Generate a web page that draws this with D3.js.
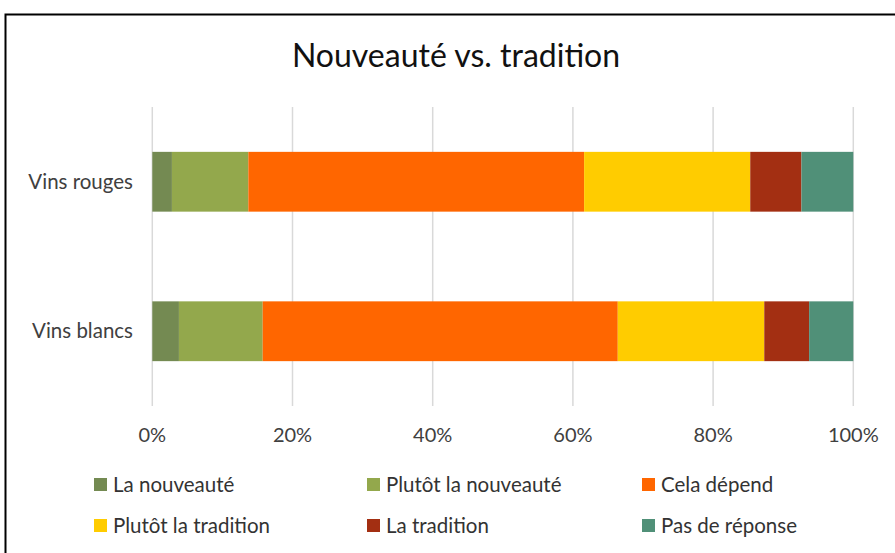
<!DOCTYPE html>
<html>
<head>
<meta charset="utf-8">
<script src="https://cdn.jsdelivr.net/npm/d3@7"></script>
<style>
  body { margin: 0; background: #fff; }
  text { font-family: Lato, "Noto Sans", sans-serif; fill: #404040; }
</style>
</head>
<body>
<div id="viz"></div>
<script>
const width = 895;
const height = 553;

// Data
const categories = ['Vins rouges', 'Vins blancs'];
const seriesNames = ['La nouveauté', 'Plutôt la nouveauté', 'Cela dépend', 'Plutôt la tradition', 'La tradition', 'Pas de réponse'];
const vinsRouges = [2.8, 10.9, 47.9, 23.7, 7.3, 7.4];
const vinsBlancs = [3.8, 11.95, 50.65, 20.9, 6.4, 6.3];
const tickValues = [0, 20, 40, 60, 80, 100];
const colors = ['#748A52', '#93A84C', '#FF6600', '#FFCC00', '#A32F12', '#509078'];

const rows = [vinsRouges, vinsBlancs];
const table = categories.map((c, i) => {
  const o = {category: c};
  seriesNames.forEach((s, j) => o[s] = rows[i][j]);
  return o;
});
const stacked = d3.stack().keys(seriesNames)(table);

const svg = d3.select('#viz')
  .append('svg')
  .attr('width', width)
  .attr('height', height);

// outer frame
svg.append('rect')
  .attr('x', 5.5)
  .attr('y', 14.5)
  .attr('width', 900)
  .attr('height', 560)
  .attr('fill', 'none')
  .attr('stroke', '#000')
  .attr('stroke-width', 2);

svg.append('text')
  .attr('x', 456)
  .attr('y', 67)
  .attr('text-anchor', 'middle')
  .style('font-size', '32px')
  .style('fill', '#111')
  .text('Nouveauté vs. tradition');

const xScale = d3.scaleLinear()
  .domain([0, 100])
  .range([152.3, 853.3]);

const yScale = d3.scaleBand()
  .domain(categories)
  .range([107, 406])
  .paddingInner(0.6)
  .paddingOuter(0.3);

// grid
svg.append('g')
  .selectAll('line')
  .data(tickValues)
  .join('line')
    .attr('x1', d => xScale(d))
    .attr('x2', d => xScale(d))
    .attr('y1', 107)
    .attr('y2', 406)
    .attr('stroke', '#d9d9d9')
    .attr('stroke-width', 1.5);

// x tick labels
svg.append('g')
  .selectAll('text')
  .data(tickValues)
  .join('text')
    .attr('x', d => xScale(d))
    .attr('y', 442)
    .attr('text-anchor', 'middle')
    .style('font-size', '20px')
    .text(d => d + '%');

// category labels
svg.append('g')
  .selectAll('text')
  .data(categories)
  .join('text')
    .attr('x', 133)
    .attr('y', d => yScale(d) + yScale.bandwidth() / 2)
    .attr('dy', '0.35em')
    .attr('text-anchor', 'end')
    .style('font-size', '20.5px')
    .text(d => d);

// stacked bars
svg.append('g')
  .selectAll('g')
  .data(stacked)
  .join('g')
    .attr('fill', (d, i) => colors[i])
  .selectAll('rect')
  .data(d => d)
  .join('rect')
    .attr('x', d => xScale(d[0]))
    .attr('y', d => yScale(d.data.category))
    .attr('width', d => xScale(d[1]) - xScale(d[0]))
    .attr('height', yScale.bandwidth());

// legend
const legendX = [94, 367, 642];
const legendY = [484.5, 525.5];
const legend = svg.append('g')
  .selectAll('g')
  .data(seriesNames)
  .join('g')
    .attr('transform', (d, i) => `translate(${legendX[i % 3]}, ${legendY[Math.floor(i / 3)]})`);

legend.append('rect')
  .attr('x', 0)
  .attr('y', -6.5)
  .attr('width', 13)
  .attr('height', 13)
  .attr('fill', (d, i) => colors[i]);

legend.append('text')
  .attr('x', 19)
  .attr('dy', '0.35em')
  .style('font-size', '20.5px')
  .style('fill', '#333')
  .text(d => d);
</script>
</body>
</html>
